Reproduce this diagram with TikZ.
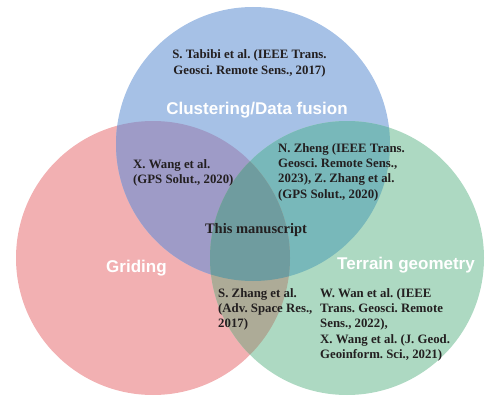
\documentclass[tikz,border=0pt]{standalone}
\usepackage{fontspec}
\setmainfont{Liberation Serif}
\newfontfamily\labelsans{Liberation Sans}
\definecolor{cred}{HTML}{F2B0B2}
\definecolor{cblue}{HTML}{A6C1E6}
\definecolor{cgreen}{HTML}{ADD9C2}
\definecolor{crb}{HTML}{9E9BC7}
\definecolor{cbg}{HTML}{78B8BA}
\definecolor{crg}{HTML}{ADAB97}
\definecolor{crgb}{HTML}{6F9C9F}
\definecolor{reftext}{HTML}{231F20}
\newcommand\leftlines[1]{\vtop{\halign{##\hfil\cr#1\crcr}}}
\newcommand\ctrlines[1]{\vtop{\halign{\hfil##\hfil\cr#1\crcr}}}
\frenchspacing
\begin{document}
\begin{tikzpicture}[x=1pt,y=-1pt,
  ref/.style={font=\bfseries\frenchspacing\fontsize{12.8}{15.4}\selectfont, text=reftext, inner sep=0pt},
  lab/.style={font=\labelsans\bfseries\fontsize{17}{20}\selectfont, text=white, inner sep=0pt}]
\useasboundingbox (0,0) rectangle (485,396);
\coordinate (R) at (153,258);
\coordinate (B) at (253,144);
\coordinate (G) at (347,258);
\fill[cred] (R) circle[radius=137pt];
\fill[cblue] (B) circle[radius=137pt];
\fill[cgreen] (G) circle[radius=137pt];
\begin{scope}
  \clip (R) circle[radius=137pt];
  \fill[crb] (B) circle[radius=137pt];
\end{scope}
\begin{scope}
  \clip (B) circle[radius=137pt];
  \fill[cbg] (G) circle[radius=137pt];
\end{scope}
\begin{scope}
  \clip (R) circle[radius=137pt];
  \fill[crg] (G) circle[radius=137pt];
\end{scope}
\begin{scope}
  \clip (R) circle[radius=137pt];
  \clip (B) circle[radius=137pt];
  \fill[crgb] (G) circle[radius=137pt];
\end{scope}
\node[ref, anchor=base] (tabibi) at (249.5,59) {\ctrlines{S. Tabibi et al. (IEEE Trans.\cr Geosci. Remote Sens., 2017)}};
\node[lab, anchor=base] (clustering) at (257,114) {Clustering/Data fusion};
\node[ref, anchor=base west] (xwang) at (133,168) {\leftlines{X. Wang et al.\cr (GPS Solut., 2020)}};
\node[ref, anchor=base west] (zheng) at (278,152) {\leftlines{N. Zheng (IEEE Trans.\cr Geosci. Remote Sens.,\cr 2023), Z. Zhang et al.\cr (GPS Solut., 2020)}};
\node[ref, anchor=base, font=\bfseries\fontsize{14.5}{17}\selectfont] (manuscript) at (256,233) {This manuscript};
\node[lab, anchor=base west] (griding) at (106,272) {Griding};
\node[lab, anchor=base west] (terrain) at (337,269) {Terrain geometry};
\node[ref, anchor=base west] (szhang) at (218,297) {\leftlines{S. Zhang et al.\cr (Adv. Space Res.,\cr 2017)}};
\node[ref, anchor=base west] (wwan) at (320,297) {\leftlines{W. Wan et al. (IEEE\cr Trans. Geosci. Remote\cr Sens., 2022),\cr X. Wang et al. (J. Geod.\cr Geoinform. Sci., 2021)}};
\end{tikzpicture}
\end{document}
